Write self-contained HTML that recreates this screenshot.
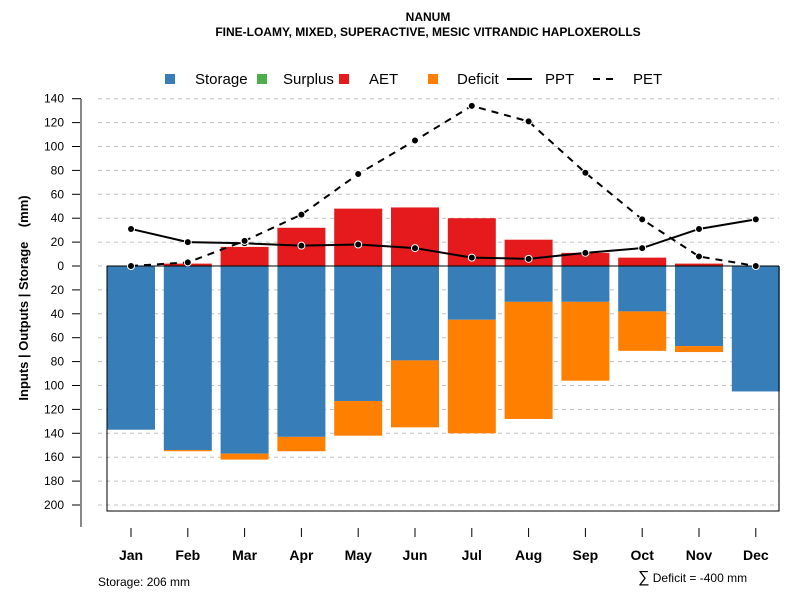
<!DOCTYPE html>
<html><head><meta charset="utf-8"><style>
body{margin:0;background:#fff;}
svg{font-family:"Liberation Sans",sans-serif;}
</style></head><body>
<svg width="800" height="600" id="chart">
<text x="428" y="21" text-anchor="middle" font-weight="bold" font-size="12">NANUM</text>
<text x="428" y="36" text-anchor="middle" font-weight="bold" font-size="12">FINE-LOAMY, MIXED, SUPERACTIVE, MESIC VITRANDIC HAPLOXEROLLS</text>
<g font-size="15">
<g><rect x="165" y="74" width="10" height="10" fill="#377eb8"/><text x="195" y="84">Storage</text></g>
<g><rect x="257" y="74" width="10" height="10" fill="#4daf4a"/><text x="283" y="84">Surplus</text></g>
<g><rect x="339" y="74" width="10" height="10" fill="#e41a1c"/><text x="369" y="84">AET</text></g>
<g><rect x="428" y="74" width="10" height="10" fill="#ff7f00"/><text x="457" y="84">Deficit</text></g>
<g><line x1="507" y1="79" x2="532" y2="79" stroke="#000" stroke-width="2"/><text x="545" y="84">PPT</text></g>
<g><line x1="593" y1="79" x2="616" y2="79" stroke="#000" stroke-width="2" stroke-dasharray="7,6"/><text x="633" y="84">PET</text></g>
</g>
<text transform="translate(28,298) rotate(-90)" text-anchor="middle" font-weight="bold" font-size="13" style="white-space:pre">Inputs | Outputs | Storage    (mm)</text>
<g id="grid"></g><g id="bars"></g><g id="axes"></g><g id="lines"></g>
<text x="98" y="586" font-size="12">Storage: 206 mm</text>
<text x="638" y="582" font-size="12"><tspan font-size="16">∑</tspan> Deficit = -400 mm</text>
</svg>
<script>
const months=["Jan","Feb","Mar","Apr","May","Jun","Jul","Aug","Sep","Oct","Nov","Dec"];
const storage=[137,154,157,143,113,79,45,30,30,38,67,105];
const deficit=[0,1,5,12,29,56,95,98,66,33,5,0];
const aet=[0,2,16,32,48,49,40,22,11,7,2,0];
const surplus=[0,0,0,0,0,0,0,0,0,0,0,0];
const ppt=[31,20,19,17,18,15,7,6,11,15,31,39];
const pet=[0,3,21,43,77,105,134,121,78,39,8,0];
const yTicks=[140,120,100,80,60,40,20,0,-20,-40,-60,-80,-100,-120,-140,-160,-180,-200];
const NS="http://www.w3.org/2000/svg";
const y=v=>266-v*(239/200);
const x=i=>131+i*56.8;
const bw=48;
function mk(p,t,a){const e=document.createElementNS(NS,t);for(const k in a)e.setAttribute(k,a[k]);document.getElementById(p).appendChild(e);return e;}
yTicks.forEach(t=>{
 const g=mk('grid','line',{x1:98,x2:779,y1:y(t),y2:y(t),stroke:'#c0c0c0','stroke-dasharray':'4,4'});
 
 
 const tk=mk('axes','line',{x1:72,x2:81,y1:y(t),y2:y(t),stroke:'#000'});
 
 
 const tl=mk('axes','text',{x:64,y:y(t)+4,'text-anchor':'end','font-size':12});
 tl.textContent=Math.abs(t);
 
 
});
months.forEach((m,i)=>{
 const cx=x(i);
 const s=mk('bars','rect',{x:cx-bw/2,y:y(0),width:bw,height:y(-storage[i])-y(0),fill:'#377eb8'});
 
 
 const d=mk('bars','rect',{x:cx-bw/2,y:y(-storage[i]),width:bw,height:y(-storage[i]-deficit[i])-y(-storage[i]),fill:'#ff7f00'});
 
 
 const a=mk('bars','rect',{x:cx-bw/2,y:y(aet[i]),width:bw,height:y(0)-y(aet[i]),fill:'#e41a1c'});
 
 
 const su=mk('bars','rect',{x:cx-bw/2,y:y(aet[i]+surplus[i]),width:bw,height:y(aet[i])-y(aet[i]+surplus[i]),fill:'#4daf4a'});
 
 
 const tk=mk('axes','line',{x1:cx,x2:cx,y1:528,y2:537,stroke:'#000'});
 
 
 const tl=mk('axes','text',{x:cx,y:560,'text-anchor':'middle','font-size':14,'font-weight':'bold'});
 tl.textContent=m;
 
 
});
let e=mk('axes','line',{x1:81,x2:81,y1:99,y2:527,stroke:'#888','stroke-width':2});


e=mk('axes','path',{d:`M107 ${y(0)} L779 ${y(0)} M107 ${y(0)} L107 511 L779 511 L779 ${y(0)}`,fill:'none',stroke:'#000'});


function series(arr,name,dash){
 const p=mk('lines','polyline',{points:arr.map((v,i)=>x(i)+','+y(v)).join(' '),fill:'none',stroke:'#000','stroke-width':2,'stroke-dasharray':dash});
 
 
 arr.forEach((v,i)=>{const c=mk('lines','circle',{cx:x(i),cy:y(v),r:3.5,fill:'#000',stroke:'#fff','stroke-width':1});
 
 });
}
series(ppt,'ppt','none');
series(pet,'pet','7,6');
</script>
</body></html>
